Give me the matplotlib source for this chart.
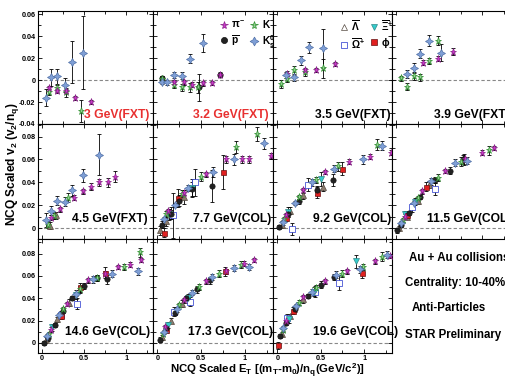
import matplotlib
matplotlib.use('Agg')
import matplotlib.pyplot as plt
from matplotlib.lines import Line2D
from matplotlib.ticker import MultipleLocator, FuncFormatter

plt.rcParams['font.family'] = ['Liberation Sans', 'DejaVu Sans']
plt.rcParams['font.weight'] = 'bold'
plt.rcParams['mathtext.fontset'] = 'custom'
plt.rcParams['mathtext.rm'] = 'Liberation Sans:bold'
plt.rcParams['mathtext.it'] = 'Liberation Sans:bold'
plt.rcParams['mathtext.bf'] = 'Liberation Sans:bold'

# panel order: row by row
energies = ['3', '3.2', '3.5', '3.9', '4.5', '7.7', '9.2', '11.5', '14.6', '17.3', '19.6']
panel_labels = ['3 GeV(FXT)', '3.2 GeV(FXT)', '3.5 GeV(FXT)', '3.9 GeV(FXT)',
                '4.5 GeV(FXT)', '7.7 GeV(COL)', '9.2 GeV(COL)', '11.5 GeV(COL)',
                '14.6 GeV(COL)', '17.3 GeV(COL)', '19.6 GeV(COL)']
label_colors = ['#e83030', '#e83030'] + ['black'] * 9
label_x = [0.40, 0.336, 0.353, 0.356, 0.30, 0.336, 0.334, 0.294, 0.235, 0.294, 0.334]
info_lines = ['Au + Au collisions', 'Centrality: 10-40%', 'Anti-Particles', 'STAR Preliminary']

# (x, v2/nq, error) per energy
pim = {
    '3': ([0.085, 0.18, 0.28, 0.39, 0.58], [-0.0075, -0.010, -0.0097, -0.0164, -0.0197], [0.002, 0.002, 0.002, 0.002, 0.002]),
    '3.2': ([0.19, 0.30, 0.40, 0.52, 0.62, 0.71], [-0.0015, -0.002, -0.004, -0.003, -0.0025, 0.0045], [0.002, 0.002, 0.002, 0.002, 0.002, 0.002]),
    '3.5': ([0.11, 0.32, 0.45, 0.66], [0.006, 0.009, 0.0094, 0.0145], [0.002, 0.002, 0.002, 0.002]),
    '3.9': ([0.31, 0.48, 0.66], [0.016, 0.0197, 0.026], [0.002, 0.002, 0.003]),
    '4.5': ([0.10, 0.21, 0.38, 0.49, 0.58, 0.68, 0.78, 0.87], [0.009, 0.0164, 0.0266, 0.032, 0.036, 0.040, 0.040, 0.045], [0.002, 0.002, 0.002, 0.002, 0.003, 0.003, 0.004, 0.005]),
    '7.7': ([0.12, 0.30, 0.55, 0.78, 0.97, 1.05, 1.30], [0.015, 0.031, 0.047, 0.060, 0.060, 0.060, 0.063], [0.002, 0.002, 0.002, 0.003, 0.003, 0.003, 0.003]),
    '9.2': ([0.10, 0.30, 0.55, 0.83, 1.07, 1.31], [0.011, 0.033, 0.049, 0.058, 0.0625, 0.066], [0.002, 0.002, 0.002, 0.002, 0.002, 0.002]),
    '11.5': ([0.10, 0.30, 0.56, 0.80, 1.00, 1.14], [0.010, 0.032, 0.050, 0.060, 0.066, 0.070], [0.002, 0.002, 0.002, 0.002, 0.002, 0.002]),
    '14.6': ([0.10, 0.30, 0.55, 0.75, 0.90, 1.05, 1.18], [0.012, 0.035, 0.056, 0.062, 0.068, 0.070, 0.074], [0.002, 0.002, 0.002, 0.002, 0.002, 0.002, 0.002]),
    '17.3': ([0.09, 0.30, 0.55, 0.78, 0.99, 1.10], [0.014, 0.038, 0.055, 0.064, 0.071, 0.074], [0.002, 0.002, 0.002, 0.002, 0.002, 0.002]),
    '19.6': ([0.10, 0.30, 0.55, 0.80, 1.12, 1.30], [0.020, 0.041, 0.055, 0.064, 0.073, 0.078], [0.002, 0.002, 0.002, 0.002, 0.002, 0.002]),
}
km = {
    '3': ([0.083, 0.18, 0.28, 0.46], [-0.011, -0.0075, -0.011, -0.028], [0.003, 0.003, 0.004, 0.010]),
    '3.2': ([0.054, 0.19, 0.28, 0.37, 0.46], [0.001, -0.0045, -0.0067, -0.0067, -0.0067], [0.003, 0.003, 0.003, 0.004, 0.005]),
    '3.5': ([0.04, 0.11, 0.19, 0.32, 0.52], [-0.0036, 0.001, 0.009, 0.007, 0.0106], [0.004, 0.003, 0.004, 0.003, 0.009]),
    '3.9': ([0.05, 0.125, 0.20, 0.28, 0.38, 0.48], [0.0015, -0.006, 0.0034, 0.0025, 0.0176, 0.036], [0.002, 0.003, 0.003, 0.003, 0.003, 0.004]),
    '4.5': ([0.073, 0.14, 0.31], [0.003, 0.0105, 0.0266], [0.003, 0.003, 0.004]),
    '7.7': ([0.10, 0.28, 0.50, 0.90, 1.14], [0.012, 0.030, 0.045, 0.071, 0.082], [0.003, 0.003, 0.004, 0.005, 0.006]),
    '9.2': ([0.08, 0.25, 0.45, 0.70, 1.15], [0.008, 0.027, 0.042, 0.054, 0.073], [0.002, 0.002, 0.003, 0.004, 0.005]),
    '11.5': ([0.08, 0.25, 0.48, 0.75, 1.08], [0.007, 0.026, 0.044, 0.058, 0.068], [0.002, 0.002, 0.003, 0.004, 0.004]),
    '14.6': ([0.08, 0.25, 0.45, 0.65, 0.97, 1.16], [0.008, 0.030, 0.048, 0.058, 0.068, 0.081], [0.002, 0.002, 0.003, 0.003, 0.003, 0.004]),
    '17.3': ([0.06, 0.25, 0.47, 0.70, 0.95], [0.008, 0.034, 0.050, 0.062, 0.070], [0.002, 0.002, 0.003, 0.003, 0.003]),
    '19.6': ([0.06, 0.25, 0.45, 0.75, 0.99, 1.20], [0.012, 0.036, 0.049, 0.062, 0.068, 0.077], [0.002, 0.002, 0.003, 0.003, 0.003, 0.004]),
}
pbar = {
    '3.2': ([0.05, 0.47, 0.71], [0.0015, -0.0067, 0.005], [0.002, 0.012, 0.002]),
    '7.7': ([0.05, 0.15, 0.25, 0.40, 0.62], [0.003, 0.012, 0.024, 0.034, 0.037], [0.003, 0.004, 0.005, 0.006, 0.014]),
    '9.2': ([0.02, 0.12, 0.25, 0.46, 0.64], [0.001, 0.012, 0.024, 0.033, 0.042], [0.002, 0.002, 0.003, 0.004, 0.005]),
    '11.5': ([0.01, 0.06, 0.15, 0.28, 0.45, 0.62, 0.78], [-0.002, 0.003, 0.013, 0.027, 0.042, 0.050, 0.060], [0.002, 0.002, 0.002, 0.002, 0.003, 0.003, 0.004]),
    '14.6': ([0.02, 0.07, 0.15, 0.25, 0.35, 0.50, 0.65, 0.77], [0.0, 0.004, 0.016, 0.029, 0.040, 0.051, 0.058, 0.057], [0.002, 0.002, 0.002, 0.002, 0.002, 0.003, 0.003, 0.004]),
    '17.3': ([0.03, 0.10, 0.20, 0.33, 0.45, 0.60], [0.003, 0.013, 0.027, 0.040, 0.048, 0.056], [0.002, 0.002, 0.002, 0.002, 0.003, 0.003]),
    '19.6': ([0.03, 0.10, 0.20, 0.35, 0.50, 0.65], [0.006, 0.018, 0.030, 0.042, 0.052, 0.059], [0.002, 0.002, 0.002, 0.002, 0.003, 0.003]),
}
ks0 = {
    '3': ([0.042, 0.10, 0.18, 0.27, 0.35, 0.49], [-0.016, 0.0025, 0.0034, -0.0045, 0.0166, 0.025], [0.008, 0.008, 0.007, 0.006, 0.019, 0.033]),
    '3.2': ([0.054, 0.113, 0.19, 0.28, 0.37, 0.52], [-0.0015, -0.002, 0.0045, 0.004, 0.0197, 0.034], [0.002, 0.002, 0.003, 0.003, 0.004, 0.008]),
    '3.5': ([0.105, 0.19, 0.27, 0.37, 0.52], [0.0045, 0.0025, 0.018, 0.030, 0.029], [0.003, 0.003, 0.004, 0.005, 0.018]),
    '3.9': ([0.125, 0.20, 0.28, 0.38, 0.52], [0.0055, 0.0115, 0.024, 0.036, 0.025], [0.004, 0.004, 0.004, 0.005, 0.008]),
    '4.5': ([0.042, 0.10, 0.18, 0.27, 0.35, 0.49, 0.68], [0.007, 0.015, 0.024, 0.023, 0.033, 0.046, 0.064], [0.006, 0.004, 0.004, 0.004, 0.005, 0.006, 0.018]),
    '7.7': ([0.08, 0.20, 0.35, 0.63, 0.87, 1.22], [0.008, 0.020, 0.035, 0.049, 0.060, 0.074], [0.002, 0.002, 0.003, 0.004, 0.005, 0.005]),
    '9.2': ([0.06, 0.20, 0.40, 0.65, 0.99, 1.20], [0.005, 0.022, 0.040, 0.052, 0.060, 0.072], [0.002, 0.002, 0.003, 0.003, 0.004, 0.004]),
    '11.5': ([0.05, 0.20, 0.40, 0.68, 0.82], [0.004, 0.022, 0.041, 0.057, 0.059], [0.002, 0.002, 0.003, 0.003, 0.003]),
    '14.6': ([0.06, 0.20, 0.40, 0.60, 0.83, 1.14], [0.006, 0.025, 0.044, 0.057, 0.062, 0.064], [0.002, 0.002, 0.002, 0.003, 0.003, 0.003]),
    '17.3': ([0.07, 0.22, 0.40, 0.62, 0.87, 1.05], [0.010, 0.030, 0.045, 0.059, 0.067, 0.068], [0.002, 0.002, 0.002, 0.003, 0.003, 0.003]),
    '19.6': ([0.07, 0.22, 0.40, 0.67, 0.95, 1.26], [0.013, 0.033, 0.046, 0.061, 0.066, 0.079], [0.002, 0.002, 0.002, 0.003, 0.003, 0.003]),
}
lambar = {
    '4.5': ([0.09, 0.16], [0.002, 0.011], [0.003, 0.003]),
    '7.7': ([0.03, 0.10, 0.15, 0.30], [-0.002, 0.006, 0.013, 0.027], [0.004, 0.004, 0.005, 0.006]),
    '9.2': ([0.05, 0.15, 0.30, 0.52], [0.003, 0.015, 0.029, 0.036], [0.003, 0.003, 0.004, 0.004]),
    '11.5': ([0.03, 0.12, 0.25, 0.38], [0.000, 0.010, 0.024, 0.038], [0.002, 0.002, 0.003, 0.003]),
    '14.6': ([0.05, 0.18, 0.32], [0.003, 0.021, 0.036], [0.002, 0.002, 0.003]),
    '17.3': ([0.05, 0.15, 0.28], [0.005, 0.020, 0.035], [0.002, 0.002, 0.003]),
    '19.6': ([0.05, 0.15, 0.30], [0.008, 0.024, 0.039], [0.002, 0.002, 0.003]),
}
xibar = {
    '7.7': ([0.13, 0.40], [0.012, 0.035], [0.005, 0.008]),
    '9.2': ([0.12, 0.50], [0.014, 0.043], [0.004, 0.006]),
    '11.5': ([0.10, 0.22], [0.012, 0.023], [0.003, 0.003]),
    '14.6': ([0.12, 0.40], [0.014, 0.043], [0.003, 0.004]),
    '17.3': ([0.12, 0.35], [0.016, 0.040], [0.003, 0.004]),
    '19.6': ([0.13, 0.42, 0.91], [0.021, 0.046, 0.073], [0.003, 0.004, 0.006]),
}
omegabar = {
    '7.7': ([0.18, 0.43], [0.011, 0.040], [0.020, 0.012]),
    '9.2': ([0.17, 0.35], [-0.001, 0.038], [0.005, 0.006]),
    '11.5': ([0.18, 0.45], [0.018, 0.034], [0.004, 0.005]),
    '14.6': ([0.22, 0.42], [0.025, 0.035], [0.004, 0.005]),
    '17.3': ([0.19, 0.37], [0.028, 0.037], [0.004, 0.004]),
    '19.6': ([0.11, 0.43, 0.71], [0.022, 0.046, 0.054], [0.004, 0.005, 0.007]),
}
phi = {
    '7.7': ([0.07, 0.23, 0.75], [-0.004, 0.026, 0.049], [0.004, 0.008, 0.015]),
    '9.2': ([0.10, 0.46, 0.75], [0.009, 0.031, 0.052], [0.003, 0.005, 0.006]),
    '11.5': ([0.12, 0.35, 0.79], [0.011, 0.036, 0.060], [0.003, 0.004, 0.005]),
    '14.6': ([0.22, 0.45, 0.75], [0.024, 0.050, 0.063], [0.003, 0.004, 0.005]),
    '17.3': ([0.10, 0.77], [0.012, 0.064], [0.003, 0.004]),
    '19.6': ([0.01, 0.18, 0.97], [-0.002, 0.029, 0.063], [0.003, 0.003, 0.005]),
}

# species: data, marker, face, edge, size, legend label
species = [
    (lambar, '^', '#8c7c6e', '#554a40', 3.8, r'$\overline{\Lambda}$'),
    (omegabar, 's', 'white', '#2233cc', 3.8, r'$\overline{\Omega}^{+}$'),
    (xibar, 'v', '#33cccc', '#338888', 3.8, r'$\overline{\Xi}^{+}$'),
    (phi, 's', '#e02020', '#661111', 3.6, r'$\phi$'),
    (pbar, 'o', '#222222', '#111111', 3.8, r'$\overline{\rm p}$'),
    (km, '*', '#8fd08f', '#2f8f2f', 5.2, r'K$^{-}$'),
    (pim, '*', '#cc33cc', '#882288', 5.2, r'$\pi^{-}$'),
    (ks0, (4, 1, 0), '#7f9fd6', '#4f6fa6', 5.8, r'K$^{0}_{s}$'),
]

W, H = 505, 378
col_left = [38, 153, 273, 392]
col_width = [115, 120, 119, 118]
row_top = [11, 124, 239]
row_height = [113, 115, 114]
row_ylim = [(-0.04, 0.063), (-0.0096, 0.091), (-0.009, 0.093)]
label_y = [0.08, 0.174, 0.184]

fig = plt.figure(figsize=(W / 100, H / 100), dpi=100)
fmt = FuncFormatter(lambda v, p: '%g' % round(v, 3))

axes = {}
for i, en in enumerate(energies):
    r, c = divmod(i, 4)
    rect = (col_left[c] / W, 1 - (row_top[r] + row_height[r]) / H,
            col_width[c] / W, row_height[r] / H)
    ax = fig.add_axes(rect)
    axes[en] = ax
    ax.set_xlim(-0.05, 1.32)
    ax.set_ylim(*row_ylim[r])
    ax.axhline(0, color='#888888', ls=(0, (3, 2)), lw=0.8, zorder=1)
    for data, mk, fc, ec, ms, lab in species:
        if en not in data:
            continue
        x, y, e = data[en]
        ax.errorbar(x, y, yerr=e, fmt='none', ecolor='black', elinewidth=0.6,
                    capsize=1.2, capthick=0.6, zorder=2)
        ax.plot(x, y, ls='none', marker=mk, ms=ms, mfc=fc, mec=ec, mew=0.5, zorder=3)
    ax.text(label_x[i], label_y[r], panel_labels[i], transform=ax.transAxes,
            fontsize=8.7, fontweight='bold', color=label_colors[i],
            ha='left', va='center')

    ax.xaxis.set_major_locator(MultipleLocator(0.5))
    ax.xaxis.set_minor_locator(MultipleLocator(0.25))
    ax.yaxis.set_major_locator(MultipleLocator(0.02))
    ax.yaxis.set_minor_locator(MultipleLocator(0.01))
    ax.tick_params(which='both', direction='in', top=True, right=True,
                   width=0.6, labelsize=5.2, pad=1.8)
    ax.tick_params(which='major', length=3.2)
    ax.tick_params(which='minor', length=2.0)
    ax.xaxis.set_major_formatter(fmt)
    ax.yaxis.set_major_formatter(fmt)
    if c != 0:
        ax.tick_params(labelleft=False)
    if r != 2:
        ax.tick_params(labelbottom=False)
    for sp in ax.spines.values():
        sp.set_linewidth(0.8)
    for t in ax.get_xticklabels() + ax.get_yticklabels():
        t.set_fontweight('bold')

# legends
def handle(k):
    data, mk, fc, ec, ms, lab = species[k]
    if k == 0:
        fc = 'white'
    return Line2D([], [], ls='none', marker=mk, ms=ms + 0.6, mfc=fc, mec=ec, mew=0.5, label=lab)

leg1 = axes['3.2'].legend(handles=[handle(6), handle(4), handle(5), handle(7)], ncol=2,
                          loc='upper left', bbox_to_anchor=(0.5, 1.0), frameon=False,
                          fontsize=7.3, handlelength=0.8, handletextpad=0.3,
                          columnspacing=0.5, labelspacing=0.3, borderpad=0.2)
leg2 = axes['3.5'].legend(handles=[handle(0), handle(1), handle(2), handle(3)], ncol=2,
                          loc='upper left', bbox_to_anchor=(0.5, 1.0), frameon=False,
                          fontsize=7.3, handlelength=0.8, handletextpad=0.3,
                          columnspacing=0.5, labelspacing=0.3, borderpad=0.2)

# info text in the empty corner
info_y = [258, 283, 308, 335]
info_x = [409, 405, 412, 405]
for s, xx, yy in zip(info_lines, info_x, info_y):
    fig.text(xx / W, 1 - yy / H, s, fontsize=8.3, fontweight='bold', ha='left', va='center')

fig.text(0.024, 0.566, r'NCQ Scaled v$_2$ (v$_2$/n$_q$)', rotation=90,
         fontsize=8.6, fontweight='bold', ha='center', va='center')
fig.text(0.530, 0.019, r'NCQ Scaled E$_T$ [(m$_T$-m$_0$)/n$_q$(GeV/c$^2$)]',
         fontsize=8.2, fontweight='bold', ha='center', va='center')

fig.savefig('out.png', dpi=100)
